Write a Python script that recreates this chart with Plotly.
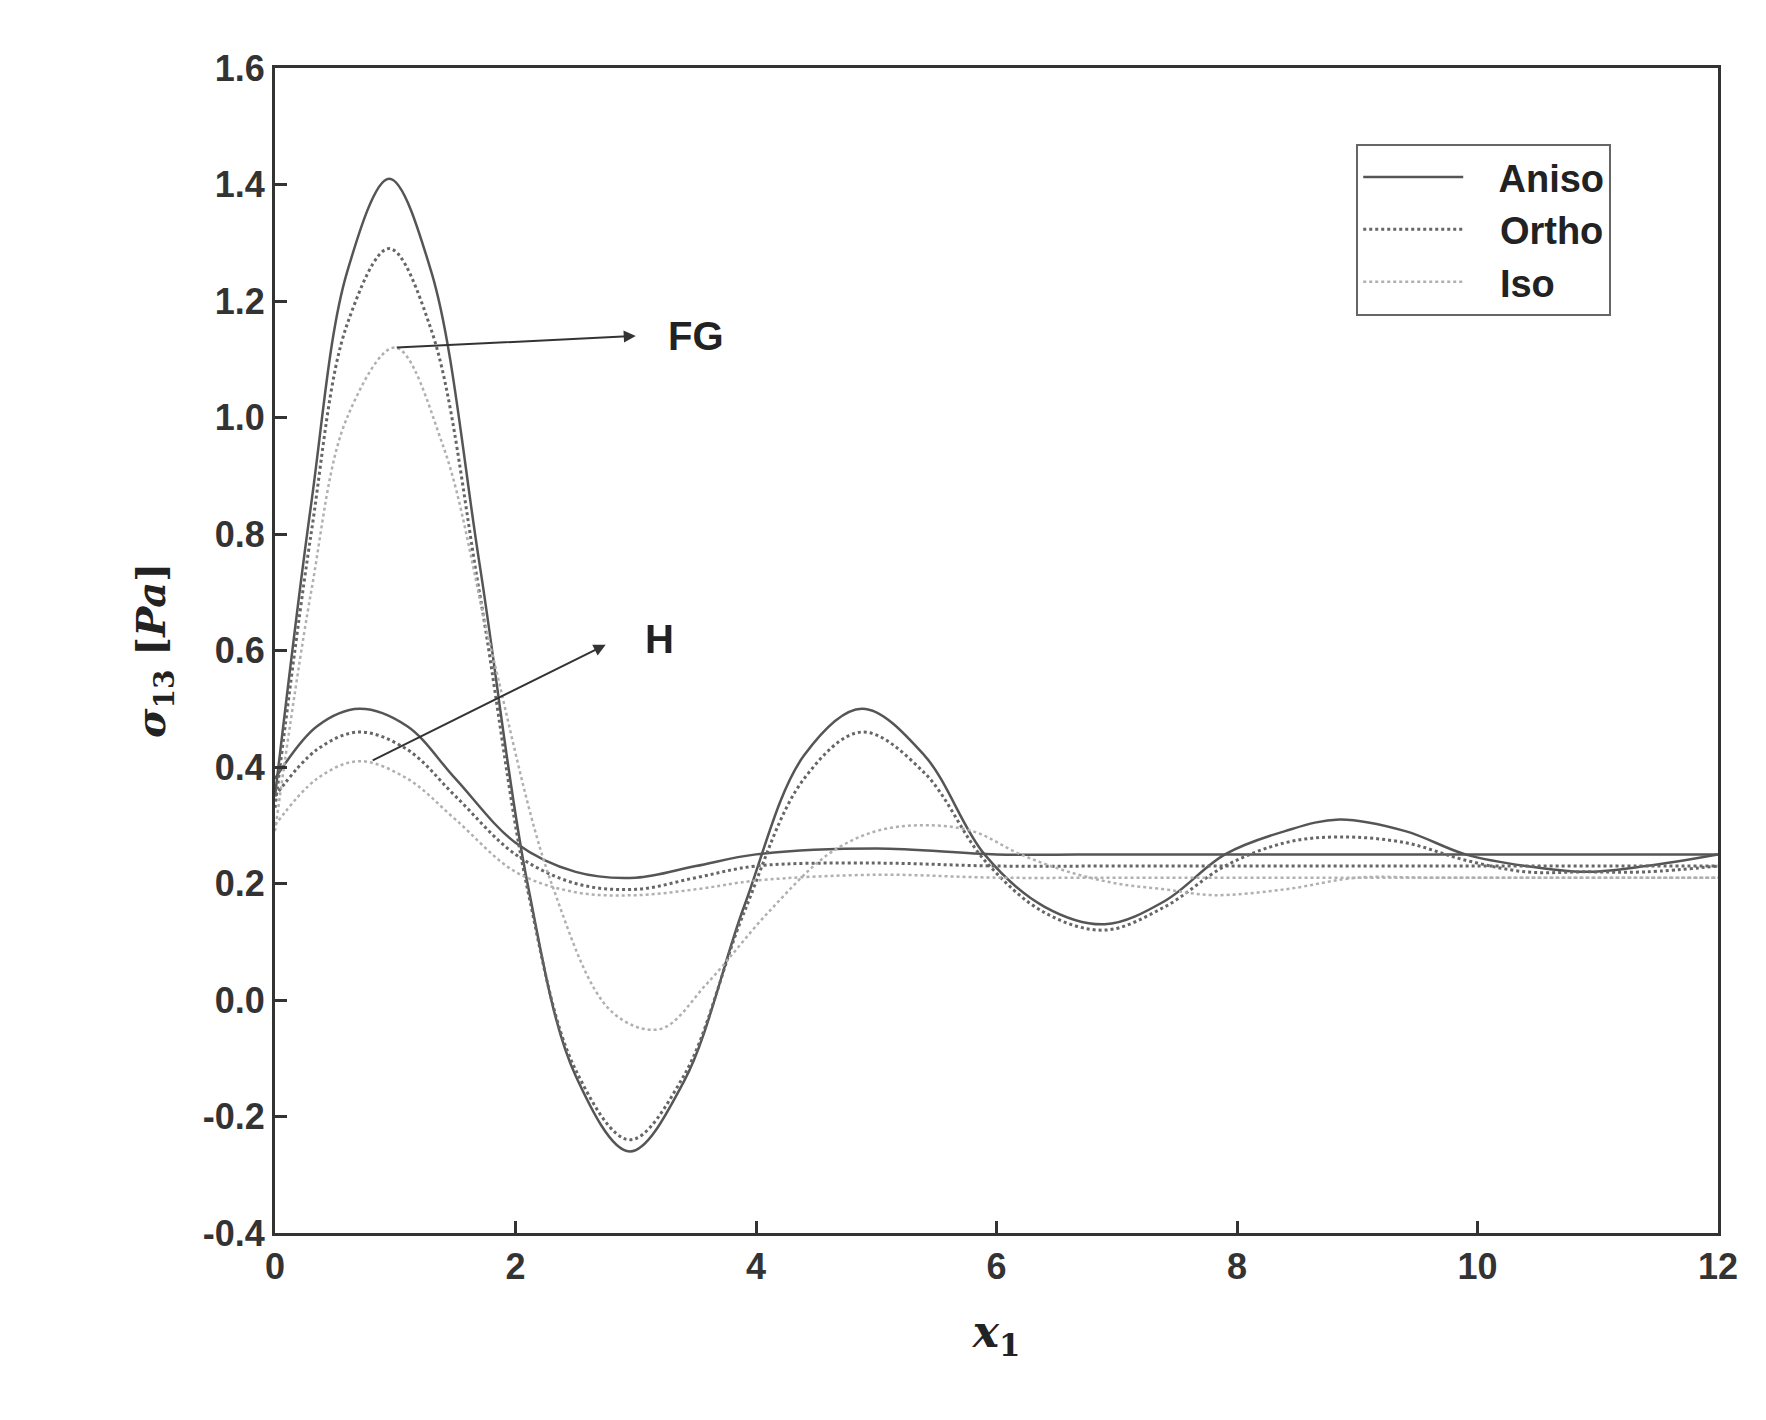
import plotly.graph_objects as go

# FG curves
fg_x = [0, 0.3, 0.6, 0.95, 1.3, 1.7, 2.1, 2.5, 2.95, 3.4, 3.9, 4.4, 4.88, 5.4, 5.9, 6.4, 6.9, 7.4, 7.9, 8.4, 8.85, 9.4, 9.9, 10.4, 10.9, 11.4, 12]
fg_aniso = [0.35, 0.85, 1.25, 1.41, 1.25, 0.75, 0.2, -0.13, -0.26, -0.14, 0.16, 0.42, 0.50, 0.42, 0.25, 0.16, 0.13, 0.17, 0.25, 0.29, 0.31, 0.29, 0.25, 0.23, 0.22, 0.23, 0.25]
fg_ortho = [0.33, 0.8, 1.16, 1.29, 1.15, 0.7, 0.19, -0.12, -0.24, -0.13, 0.15, 0.38, 0.46, 0.39, 0.24, 0.15, 0.12, 0.16, 0.23, 0.27, 0.28, 0.27, 0.24, 0.22, 0.22, 0.22, 0.23]
iso_x = [0, 0.3, 0.6, 1.0, 1.4, 1.8, 2.3, 2.8, 3.2, 3.6, 4.1, 4.6, 5.0, 5.4, 5.8, 6.2, 6.6, 7.0, 7.4, 7.8, 8.4, 9.0, 9.6, 10.2, 10.8, 11.4, 12]
fg_iso = [0.29, 0.7, 1.0, 1.12, 0.95, 0.6, 0.2, -0.02, -0.05, 0.03, 0.15, 0.25, 0.29, 0.30, 0.29, 0.25, 0.22, 0.2, 0.19, 0.18, 0.19, 0.21, 0.21, 0.21, 0.21, 0.21, 0.21]

# H curves
h_x = [0, 0.35, 0.7, 1.1, 1.5, 2.0, 2.5, 3.0, 3.5, 4.0, 5.0, 6.0, 7.0, 8.0, 9.0, 10.0, 11.0, 12.0]
h_aniso = [0.38, 0.47, 0.50, 0.47, 0.38, 0.27, 0.22, 0.21, 0.23, 0.25, 0.26, 0.25, 0.25, 0.25, 0.25, 0.25, 0.25, 0.25]
h_ortho = [0.35, 0.43, 0.46, 0.43, 0.35, 0.25, 0.2, 0.19, 0.21, 0.23, 0.235, 0.23, 0.23, 0.23, 0.23, 0.23, 0.23, 0.23]
h_iso = [0.30, 0.38, 0.41, 0.38, 0.31, 0.22, 0.185, 0.18, 0.19, 0.205, 0.215, 0.21, 0.21, 0.21, 0.21, 0.21, 0.21, 0.21]

y_ticks = [-0.4, -0.2, 0.0, 0.2, 0.4, 0.6, 0.8, 1.0, 1.2, 1.4, 1.6]
y_labels = ["-0.4", "-0.2", "0.0", "0.2", "0.4", "0.6", "0.8", "1.0", "1.2", "1.4", "1.6"]

styles = {
    "Aniso": dict(color="#555555", dash="solid", width=2.5),
    "Ortho": dict(color="#666666", dash="dot", width=3),
    "Iso": dict(color="#b0b0b0", dash="dot", width=2.5),
}

fig = go.Figure()
for name, xs, ys, hx, hy in [("Aniso", fg_x, fg_aniso, h_x, h_aniso),
                             ("Ortho", fg_x, fg_ortho, h_x, h_ortho),
                             ("Iso", iso_x, fg_iso, h_x, h_iso)]:
    fig.add_trace(go.Scatter(x=xs, y=ys, mode="lines", name="   " + name,
                             line=dict(shape="spline", **styles[name])))
    fig.add_trace(go.Scatter(x=hx, y=hy, mode="lines", name=name, showlegend=False,
                             line=dict(shape="spline", **styles[name])))

arrow = dict(showarrow=True, arrowhead=2, arrowsize=1.2, arrowwidth=2, arrowcolor="#333333",
             xref="x", yref="y", axref="x", ayref="y", text="")
fig.add_annotation(x=3.0, y=1.14, ax=1.0, ay=1.12, **arrow)
fig.add_annotation(x=2.75, y=0.61, ax=0.8, ay=0.41, **arrow)
fig.add_annotation(x=3.5, y=1.14, text="<b>FG</b>", showarrow=False, font=dict(size=40, color="#222"))
fig.add_annotation(x=3.2, y=0.62, text="<b>H</b>", showarrow=False, font=dict(size=40, color="#222"))

axis = dict(showline=True, linecolor="#333", linewidth=3, mirror=True, ticks="inside", ticklen=12,
            tickwidth=3, tickcolor="#333", showgrid=False, zeroline=False,
            tickfont=dict(size=36, color="#333", family="Liberation Sans", weight="bold"))
fig.update_layout(
    width=1766, height=1420, plot_bgcolor="white", paper_bgcolor="white",
    margin=dict(l=267, r=56, t=60, b=195),
    font=dict(family="Liberation Sans"),
    xaxis=dict(range=[0, 12], dtick=2, title=dict(text="<b><i>x</i><sub>1</sub></b>", standoff=30,
               font=dict(size=44, family="DejaVu Serif", color="#222")), **axis),
    yaxis=dict(range=[-0.4, 1.6], tickvals=y_ticks, ticktext=y_labels,
               title=dict(text="<b><i>σ</i><sub>13</sub> [<i>Pa</i>]</b>", standoff=25,
                          font=dict(size=40, family="DejaVu Serif", color="#222")),
               **axis),
    legend=dict(x=0.926, y=0.935, xanchor="right", yanchor="top", bordercolor="#666", borderwidth=2,
                font=dict(size=38, color="#222", weight="bold"), itemwidth=100, bgcolor="white",
                tracegroupgap=0),
)
fig.write_html("out.html")
